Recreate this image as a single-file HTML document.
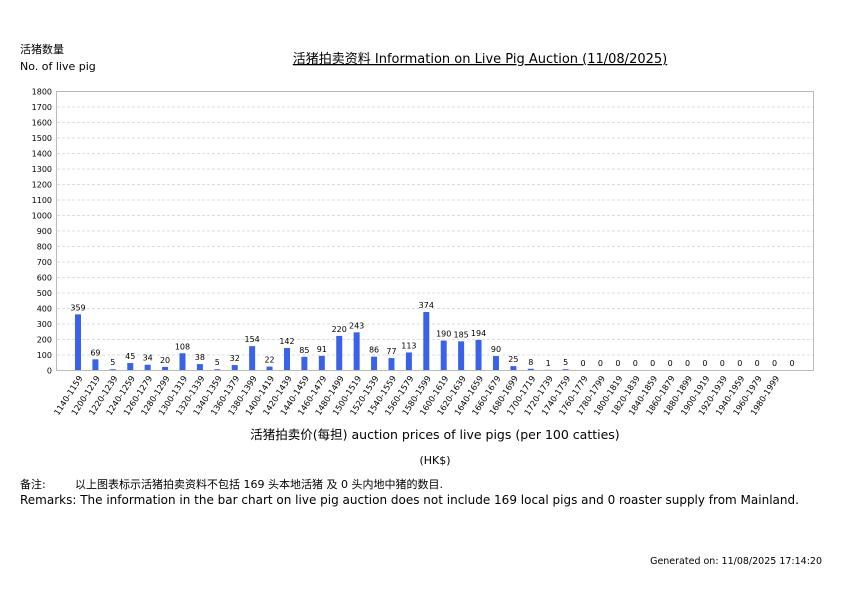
<!DOCTYPE html>
<html><head><meta charset="utf-8"><style>
body{margin:0;background:#fff;width:842px;height:595px;overflow:hidden;font-family:"DejaVu Sans","Liberation Sans","Noto Sans CJK SC",sans-serif;}
</style></head><body>
<svg width="842" height="595" xmlns="http://www.w3.org/2000/svg" font-family="DejaVu Sans, Liberation Sans, Noto Sans CJK SC, sans-serif">
<text x="20" y="53" font-size="11" fill="#000">活猪数量</text>
<text x="20" y="70" font-size="11" fill="#000">No. of live pig</text>
<text x="480" y="63" font-size="13" text-anchor="middle" fill="#000" text-decoration="underline">活猪拍卖资料 Information on Live Pig Auction (11/08/2025)</text>
<g id="grid"></g>
<rect x="56.5" y="91.5" width="757" height="279" fill="none" stroke="#bbb"/>
<g id="bars"></g>
<text x="435" y="439" font-size="12.5" text-anchor="middle">活猪拍卖价(每担) auction prices of live pigs (per 100 catties)</text>
<text x="435" y="464" font-size="11" text-anchor="middle">(HK$)</text>
<text x="20" y="488" font-size="11">备注:</text>
<text x="75" y="488" font-size="11">以上图表标示活猪拍卖资料不包括 169 头本地活猪 及 0 头内地中猪的数目.</text>
<text x="20" y="504" font-size="12">Remarks: The information in the bar chart on live pig auction does not include 169 local pigs and 0 roaster supply from Mainland.</text>
<text x="822" y="564" font-size="9.5" text-anchor="end">Generated on: 11/08/2025 17:14:20</text>
</svg>
<script>
const ns="http://www.w3.org/2000/svg";
const g=document.getElementById('grid'),b=document.getElementById('bars');
function el(t,a,txt){const e=document.createElementNS(ns,t);for(const k in a)e.setAttribute(k,a[k]);if(txt!==undefined)e.textContent=txt;return e;}
for(let v=0;v<=1800;v+=100){const y=370.5-v*279/1800;
 if(v>0&&v<1800)g.appendChild(el('line',{x1:57,x2:813,y1:y,y2:y,stroke:'#ddd','stroke-dasharray':'3,2'}));
 g.appendChild(el('text',{x:52,y:y+3,'font-size':8,'text-anchor':'end'},v));}
const vals=[359,69,5,45,34,20,108,38,5,32,154,22,142,85,91,220,243,86,77,113,374,190,185,194,90,25,8,1,5,0,0,0,0,0,0,0,0,0,0,0,0,0];
const labs=['1140-1159'];for(let s=1200;s<=1980;s+=20)labs.push(s+'-'+(s+19));
vals.forEach((v,i)=>{const x=78+i*17.415;const h=v*279/1800;
 if(h>0)b.appendChild(el('rect',{x:x-3,y:370-h,width:6,height:h,fill:'#3a62e8'}));
 b.appendChild(el('text',{x:x,y:370-h-4,'font-size':8,'text-anchor':'middle'},v));
 b.appendChild(el('text',{x:x+5,y:378,'font-size':8.3,'text-anchor':'end',transform:`rotate(-57 ${x+5} 378)`},labs[i]));});
</script>
</body></html>
